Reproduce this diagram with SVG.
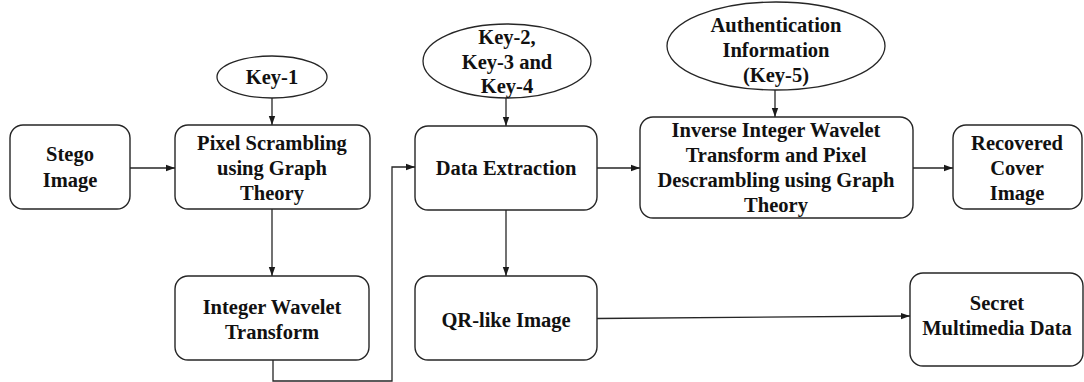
<svg xmlns="http://www.w3.org/2000/svg" width="1084" height="382" viewBox="0 0 1084 382">
  <style>
    .box { fill: #ffffff; stroke: #262626; stroke-width: 1.4; }
    .key { fill: #ffffff; stroke: #262626; stroke-width: 1.3; }
    .lbl { font-family: 'Liberation Serif', 'DejaVu Serif', serif; font-weight: 700; font-size: 20.5px; fill: #111111; text-anchor: middle; }
    .wire { fill: none; stroke: #262626; stroke-width: 1.3; }
  </style>
  <defs>
    <marker id="arrow" markerUnits="userSpaceOnUse" markerWidth="10" markerHeight="8" refX="9" refY="4" orient="auto">
      <path d="M0,0.8 L9,4 L0,7.2 Z" fill="#1a1a1a"/>
    </marker>
  </defs>
  <rect width="1084" height="382" fill="#ffffff"/>

  <!-- connectors -->
  <g id="connectors">
    <line class="wire" x1="130" y1="168" x2="175" y2="168" marker-end="url(#arrow)"/>
    <line class="wire" x1="272" y1="98" x2="272" y2="125" marker-end="url(#arrow)"/>
    <line class="wire" x1="272" y1="209" x2="272" y2="276" marker-end="url(#arrow)"/>
    <polyline class="wire" points="273,360 273,381 392,381 392,167 415,167" marker-end="url(#arrow)"/>
    <line class="wire" x1="506" y1="96" x2="506" y2="126" marker-end="url(#arrow)"/>
    <line class="wire" x1="506" y1="210" x2="506" y2="276" marker-end="url(#arrow)"/>
    <line class="wire" x1="597" y1="318.5" x2="910" y2="316" marker-end="url(#arrow)"/>
    <line class="wire" x1="597" y1="168" x2="640" y2="168" marker-end="url(#arrow)"/>
    <line class="wire" x1="775" y1="90" x2="775" y2="117" marker-end="url(#arrow)"/>
    <line class="wire" x1="913" y1="168" x2="953" y2="168" marker-end="url(#arrow)"/>
  </g>

  <g id="stego-image">
    <rect class="box" x="10" y="125" width="120" height="84" rx="13"/>
    <text class="lbl" x="70" y="161">Stego</text>
    <text class="lbl" x="70" y="187">Image</text>
  </g>

  <g id="key-1">
    <ellipse class="key" cx="272" cy="77" rx="55" ry="21"/>
    <text class="lbl" x="272" y="84">Key-1</text>
  </g>

  <g id="pixel-scrambling">
    <rect class="box" x="175" y="125" width="195" height="84" rx="13"/>
    <text class="lbl" x="272" y="150">Pixel Scrambling</text>
    <text class="lbl" x="272" y="175">using Graph</text>
    <text class="lbl" x="272" y="200">Theory</text>
  </g>

  <g id="integer-wavelet">
    <rect class="box" x="175" y="276" width="194" height="84" rx="13"/>
    <text class="lbl" x="272" y="314">Integer Wavelet</text>
    <text class="lbl" x="272" y="339">Transform</text>
  </g>

  <g id="key-2-3-4">
    <ellipse class="key" cx="507" cy="61" rx="84" ry="37"/>
    <text class="lbl" x="507" y="44">Key-2,</text>
    <text class="lbl" x="507" y="69">Key-3 and</text>
    <text class="lbl" x="507" y="93">Key-4</text>
  </g>

  <g id="data-extraction">
    <rect class="box" x="415" y="126" width="182" height="84" rx="13"/>
    <text class="lbl" x="506" y="175">Data Extraction</text>
  </g>

  <g id="qr-like-image">
    <rect class="box" x="415" y="276" width="182" height="84" rx="13"/>
    <text class="lbl" x="506" y="327">QR-like Image</text>
  </g>

  <g id="secret-data">
    <rect class="box" x="910" y="273" width="173" height="93" rx="13"/>
    <text class="lbl" x="997" y="310">Secret</text>
    <text class="lbl" x="997" y="335">Multimedia Data</text>
  </g>

  <g id="authentication">
    <ellipse class="key" cx="776" cy="46" rx="109" ry="44"/>
    <text class="lbl" x="776" y="32">Authentication</text>
    <text class="lbl" x="776" y="57">Information</text>
    <text class="lbl" x="776" y="82">(Key-5)</text>
  </g>

  <g id="inverse-transform">
    <rect class="box" x="640" y="117" width="273" height="101" rx="13"/>
    <text class="lbl" x="776" y="137">Inverse Integer Wavelet</text>
    <text class="lbl" x="776" y="162">Transform and Pixel</text>
    <text class="lbl" x="776" y="187">Descrambling using Graph</text>
    <text class="lbl" x="776" y="212">Theory</text>
  </g>

  <g id="recovered-cover">
    <rect class="box" x="953" y="125" width="129" height="84" rx="13"/>
    <text class="lbl" x="1017" y="150">Recovered</text>
    <text class="lbl" x="1017" y="175">Cover</text>
    <text class="lbl" x="1017" y="200">Image</text>
  </g>
</svg>
